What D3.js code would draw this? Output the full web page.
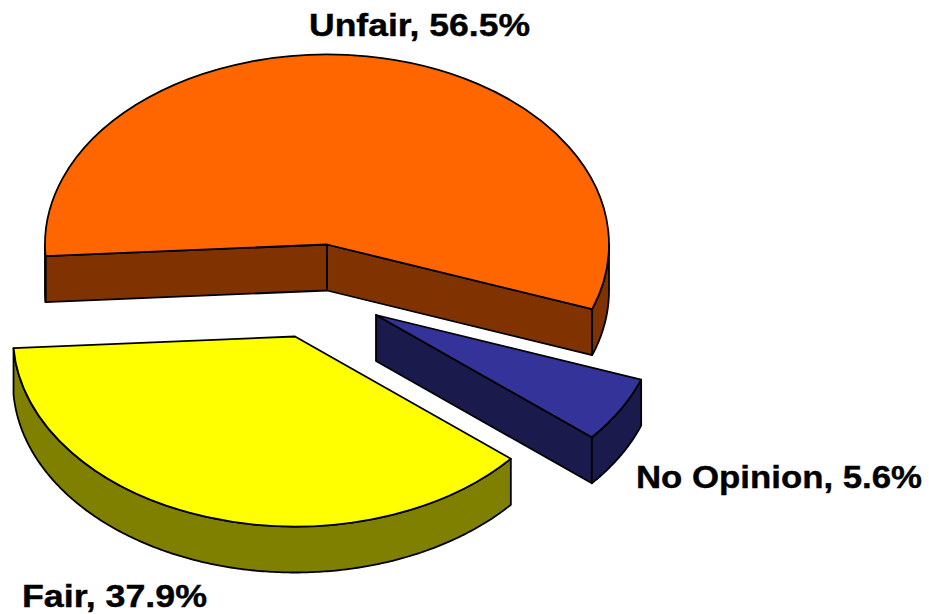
<!DOCTYPE html>
<html>
<head>
<meta charset="utf-8">
<script src="https://d3js.org/d3.v7.min.js"></script>
<style>
  html, body { margin: 0; padding: 0; background: #fff; }
  svg { display: block; }
  text { font-family: "Liberation Sans", Arial, sans-serif; font-weight: bold; font-size: 31px; fill: #000; stroke: #000; stroke-width: 0.4px; }
</style>
</head>
<body>
<svg width="929" height="614"></svg>
<script>
var categories = ['Unfair', 'No Opinion', 'Fair'];
var shares = [56.5, 5.6, 37.9];
var topColors = ['#FF6600', '#333399', '#FFFF00'];
var sideColors = ['#803300', '#1A1A4D', '#808000'];

// layout of the fake 3d pie
var rx = 282, ry = 190, depth = 46;
var firstAngle = 266.5 * Math.PI / 180;
var centers = [[327, 244.5], [376, 315], [295, 336.5]];
var labelSpots = [[309, 36], [636, 488], [22, 607]];
var labelWidths = [221, 286, 185];
var drawOrder = [0, 2, 1];

var pie = d3.pie().sort(null).startAngle(firstAngle).endAngle(firstAngle + 2 * Math.PI);
var slices = pie(shares);

var svg = d3.select('svg');
var arc = d3.arc().innerRadius(0).outerRadius(rx);
var line = d3.line();

function spot(c, a, drop) {
  return [c[0] + rx * Math.sin(a), c[1] - ry * Math.cos(a) + drop];
}

// outer rim, only the part facing the viewer (lower half of the ellipse)
function rimPath(c, a0, a1) {
  var pts = [];
  for (var turn = 0; turn <= 1; turn++) {
    var lo = Math.max(a0, Math.PI / 2 + turn * 2 * Math.PI);
    var hi = Math.min(a1, 3 * Math.PI / 2 + turn * 2 * Math.PI);
    if (lo >= hi) continue;
    var n = Math.ceil((hi - lo) / 0.01);
    var angles = d3.range(n + 1).map(function(i) { return lo + (hi - lo) * i / n; });
    var top = angles.map(function(a) { return spot(c, a, 0); });
    var bottom = angles.slice().reverse().map(function(a) { return spot(c, a, depth); });
    pts.push(line(top.concat(bottom)) + 'Z');
  }
  return pts.join('');
}

function cutPath(c, a) {
  var p = spot(c, a, 0);
  return line([c, p, [p[0], p[1] + depth], [c[0], c[1] + depth]]) + 'Z';
}

drawOrder.forEach(function(i) {
  var s = slices[i];
  var c = centers[i];
  var g = svg.append('g').attr('class', 'slice');

  var walls = [];
  // cut faces show only when they turn toward the viewer
  if (Math.sin(s.startAngle) < 0) walls.push(cutPath(c, s.startAngle));
  if (Math.sin(s.endAngle) > 0) walls.push(cutPath(c, s.endAngle));
  walls.push(rimPath(c, s.startAngle, s.endAngle));

  g.selectAll('path.wall')
    .data(walls.filter(function(d) { return d; }))
    .enter()
    .append('path')
    .attr('class', 'wall')
    .attr('d', function(d) { return d; })
    .style('fill', sideColors[i])
    .style('stroke', '#000')
    .style('stroke-width', 1.8)
    .style('stroke-linejoin', 'round');

  g.append('path')
    .attr('d', arc(s))
    .attr('transform', 'translate(' + c[0] + ',' + c[1] + ') scale(1,' + (ry / rx) + ')')
    .attr('vector-effect', 'non-scaling-stroke')
    .style('fill', topColors[i])
    .style('stroke', '#000')
    .style('stroke-width', 1.8)
    .style('stroke-linejoin', 'round');
});

svg.selectAll('text')
  .data(categories)
  .enter()
  .append('text')
  .attr('x', function(d, i) { return labelSpots[i][0]; })
  .attr('y', function(d, i) { return labelSpots[i][1]; })
  .attr('textLength', function(d, i) { return labelWidths[i]; })
  .attr('lengthAdjust', 'spacingAndGlyphs')
  .text(function(d, i) { return d + ', ' + shares[i].toFixed(1) + '%'; });
</script>
</body>
</html>
